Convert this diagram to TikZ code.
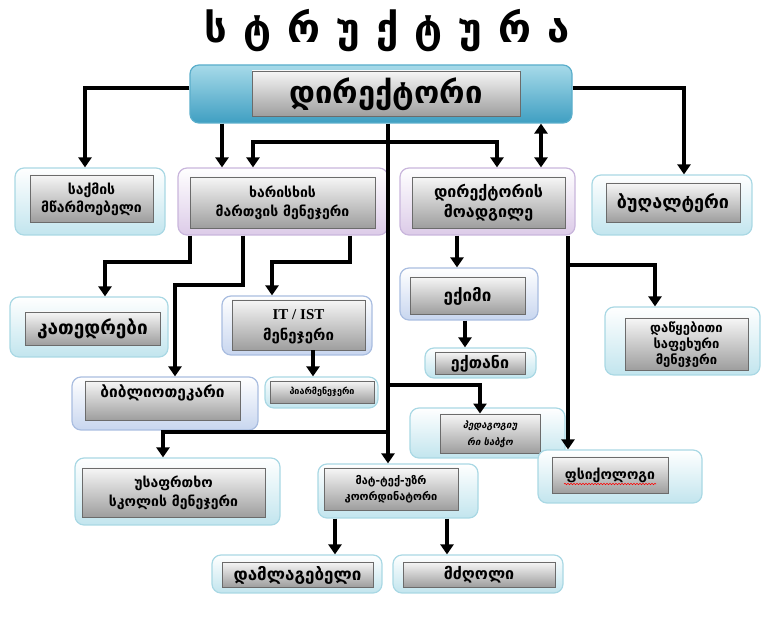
\documentclass[tikz,border=0pt]{standalone}
\usepackage{fontspec}
\setmainfont{DejaVu Sans}
\newfontfamily\lser{Liberation Serif}
\newfontfamily\gslant{DejaVu Sans}[UprightFeatures={FakeSlant=0.2},BoldFeatures={FakeSlant=0.2}]
\usetikzlibrary{arrows.meta,fit,decorations.pathmorphing}
\definecolor{cyb}{HTML}{A9D8E4}
\definecolor{cyf}{HTML}{C2E5EE}
\definecolor{lvb}{HTML}{C9B6DC}
\definecolor{lvf}{HTML}{DCCBE8}
\definecolor{pwb}{HTML}{A9BDE0}
\definecolor{pwf}{HTML}{C8D6EF}
\definecolor{inb}{HTML}{6B6B6B}
\definecolor{int}{HTML}{F6F6F6}
\definecolor{inf}{HTML}{9E9E9E}
\definecolor{dirb}{HTML}{5AAECB}
\definecolor{dirt}{HTML}{A7DAE9}
\definecolor{dirf}{HTML}{3F9FC2}
\newcommand{\fs}[1]{\bfseries\fontsize{#1}{#1}\selectfont}
\newcommand{\gtxt}[5]{\node[anchor=base,inner sep=0pt,font=#4] (#1) at (#2,#3) {#5};}
\begin{document}
\begin{tikzpicture}[x=1pt,y=-1pt,
  obox/.style={rounded corners=9pt,line width=1.2pt,inner sep=0pt},
  cbox/.style={obox,draw=cyb,top color=white,bottom color=cyf},
  lbox/.style={obox,draw=lvb,top color=white,bottom color=lvf},
  pbox/.style={obox,draw=pwb,top color=white,bottom color=pwf},
  ibox/.style={draw=inb,line width=0.9pt,top color=int,bottom color=inf,inner sep=0pt},
  arr/.style={line width=4pt,-{Triangle[width=13pt,length=10pt]}},
  arrb/.style={line width=4pt,{Triangle[width=13pt,length=10pt]}-{Triangle[width=13pt,length=10pt]}}]
\useasboundingbox (0,0) rectangle (764,617);
% title
\gtxt{title}{387}{42.5}{\fs{40}}{ს\hspace{16pt}ტ\hspace{16pt}რ\hspace{16pt}უ\hspace{16pt}ქ\hspace{16pt}ტ\hspace{16pt}უ\hspace{16pt}რ\hspace{16pt}ა}
% director
\node[obox,draw=dirb,top color=dirt,bottom color=dirf,fit={(190,65) (572,123)}] (dirO) {};
\node[ibox,fit={(252,71) (520,116)}] (dir) {};
\gtxt{dirT}{386}{103.7}{\fs{31}}{დირექტორი}
% level 1
\node[cbox,fit={(15,168) (165,235)}] (saqO) {};
\node[ibox,fit={(30,175) (153,222)}] (saq) {};
\gtxt{saqT1}{91.5}{194.1}{\fs{14}}{საქმის}
\gtxt{saqT2}{91.5}{212.1}{\fs{14}}{მწარმოებელი}
\node[lbox,fit={(178,168) (388,235)}] (xarO) {};
\node[ibox,fit={(190,177) (375,228)}] (xar) {};
\gtxt{xarT1}{282.5}{197.6}{\fs{14}}{ხარისხის}
\gtxt{xarT2}{282.5}{216.6}{\fs{14}}{მართვის მენეჯერი}
\node[lbox,fit={(400,168) (575,235)}] (moadO) {};
\node[ibox,fit={(412,177) (565,228)}] (moad) {};
\gtxt{moadT1}{488.5}{197.8}{\fs{16}}{დირექტორის}
\gtxt{moadT2}{488.5}{217.8}{\fs{16}}{მოადგილე}
\node[cbox,fit={(592,175) (752,235)}] (bugO) {};
\node[ibox,fit={(606,183) (740,222)}] (bug) {};
\gtxt{bugT}{673}{208.4}{\fs{18}}{ბუღალტერი}
% level 2
\node[cbox,fit={(10,297) (168,357)}] (katO) {};
\node[ibox,fit={(25,312) (160,345)}] (kat) {};
\gtxt{katT}{92.5}{334.8}{\fs{19}}{კათედრები}
\node[pbox,fit={(222,296) (372,355)}] (itO) {};
\node[ibox,fit={(232,300) (365,350)}] (it) {};
\gtxt{itT1}{298.5}{319.5}{\lser\fs{15}}{IT / IST}
\gtxt{itT2}{298.5}{340.5}{\fs{15}}{მენეჯერი}
\node[cbox,fit={(265,377) (378,408)}] (piarO) {};
\node[ibox,fit={(270,381) (374,403)}] (piar) {};
\gtxt{piarT}{322}{395}{\fs{9}}{პიარმენეჯერი}
\node[pbox,fit={(72,377) (258,430)}] (bibO) {};
\node[ibox,fit={(85,381) (240,420)}] (bib) {};
\gtxt{bibT}{162.5}{398}{\fs{15.5}}{ბიბლიოთეკარი}
\node[pbox,fit={(400,268) (538,320)}] (eqimO) {};
\node[ibox,fit={(410,277) (525,314)}] (eqim) {};
\gtxt{eqimT}{467.5}{301.1}{\fs{17}}{ექიმი}
\node[cbox,fit={(425,348) (536,378)}] (eqtO) {};
\node[ibox,fit={(435,352) (525,374)}] (eqt) {};
\gtxt{eqtT}{480}{368.3}{\fs{16}}{ექთანი}
\node[cbox,fit={(605,307) (760,375)}] (datsO) {};
\node[ibox,fit={(625,318) (748,370)}] (dats) {};
\gtxt{datsT1}{686.5}{332.3}{\fs{13}}{დაწყებითი}
\gtxt{datsT2}{686.5}{348.3}{\fs{13}}{საფეხური}
\gtxt{datsT3}{686.5}{364.3}{\fs{13}}{მენეჯერი}
\node[cbox,fit={(410,408) (565,458)}] (pedO) {};
\node[ibox,fit={(440,414) (540,453)}] (ped) {};
\gtxt{pedT1}{490}{428.1}{\gslant\fs{9.5}}{პედაგოგიუ}
\gtxt{pedT2}{490}{445.1}{\gslant\fs{9.5}}{რი საბჭო}
\node[cbox,fit={(75,458) (280,525)}] (usafO) {};
\node[ibox,fit={(82,468) (265,517)}] (usaf) {};
\gtxt{usafT1}{173.5}{487.6}{\fs{14}}{უსაფრთხო}
\gtxt{usafT2}{173.5}{506.6}{\fs{14}}{სკოლის მენეჯერი}
\node[cbox,fit={(318,464) (478,518)}] (matO) {};
\node[ibox,fit={(324,468) (458,510)}] (mat) {};
\gtxt{matT1}{391}{484.6}{\fs{11}}{მატ-ტექ-უზრ}
\gtxt{matT2}{391}{500.6}{\fs{11}}{კოორდინატორი}
\node[cbox,fit={(538,450) (702,503)}] (psiO) {};
\node[ibox,fit={(552,457) (668,493)}] (psi) {};
\gtxt{psiT}{610}{479.6}{\fs{14}}{ფსიქოლოგი}
\node[cbox,fit={(212,555) (382,593)}] (damO) {};
\node[ibox,fit={(222,562) (373,587)}] (dam) {};
\gtxt{damT}{297.5}{580.1}{\fs{17}}{დამლაგებელი}
\node[cbox,fit={(393,555) (563,593)}] (mdzO) {};
\node[ibox,fit={(403,562) (555,587)}] (mdz) {};
\gtxt{mdzT}{479}{579.8}{\fs{16}}{მძღოლი}
\coordinate (psiu1) at (564,484);
\coordinate (psiu2) at (656,484);
\draw[red,line width=0.6pt,decorate,decoration={snake,amplitude=0.7pt,segment length=3pt}] (psiu1) -- (psiu2);
% connectors from director
\draw[arr] (dirO.west |- 0,88) -| (saqO.north -| 85,0);
\draw[arr] (dirO.east |- 0,88) -| (bugO.north -| 684,0);
\draw[arr] (dirO.south -| 222,0) -- (xarO.north -| 222,0);
\draw[arrb] (xarO.north -| 253,0) |- (388,142) -| (moadO.north -| 497,0);
\draw[arrb] (dirO.south -| 541,0) -- (moadO.north -| 541,0);
\draw[arr] (dirO.south -| 388,0) -- (matO.north -| 388,0);
\draw[arr] (388,385) -| (ped.north -| 480,0);
\draw[arr] (388,432) -| (usafO.north -| 163,0);
% from quality manager
\draw[arr] (xarO.south -| 190,0) |- (105,262) -- (katO.north -| 105,0);
\draw[arr] (xarO.south -| 243,0) |- (175,285) -- (bibO.north -| 175,0);
\draw[arr] (xarO.south -| 350,0) |- (272,262) -- (itO.north -| 272,0);
\draw[arr] (it.south -| 313,0) -- (piarO.north -| 313,0);
% from deputy
\draw[arr] (moadO.south -| 457,0) -- (eqimO.north -| 457,0);
\draw[arr] (eqimO.south -| 465,0) -- (eqtO.north -| 465,0);
\draw[arr] (moadO.south -| 568,0) -- (psiO.north -| 568,0);
\draw[arr] (568,265) -| (datsO.north -| 655,0);
% from coordinator
\draw[arr] (matO.south -| 335,0) -- (damO.north -| 335,0);
\draw[arr] (matO.south -| 447,0) -- (mdzO.north -| 447,0);
\end{tikzpicture}
\end{document}
